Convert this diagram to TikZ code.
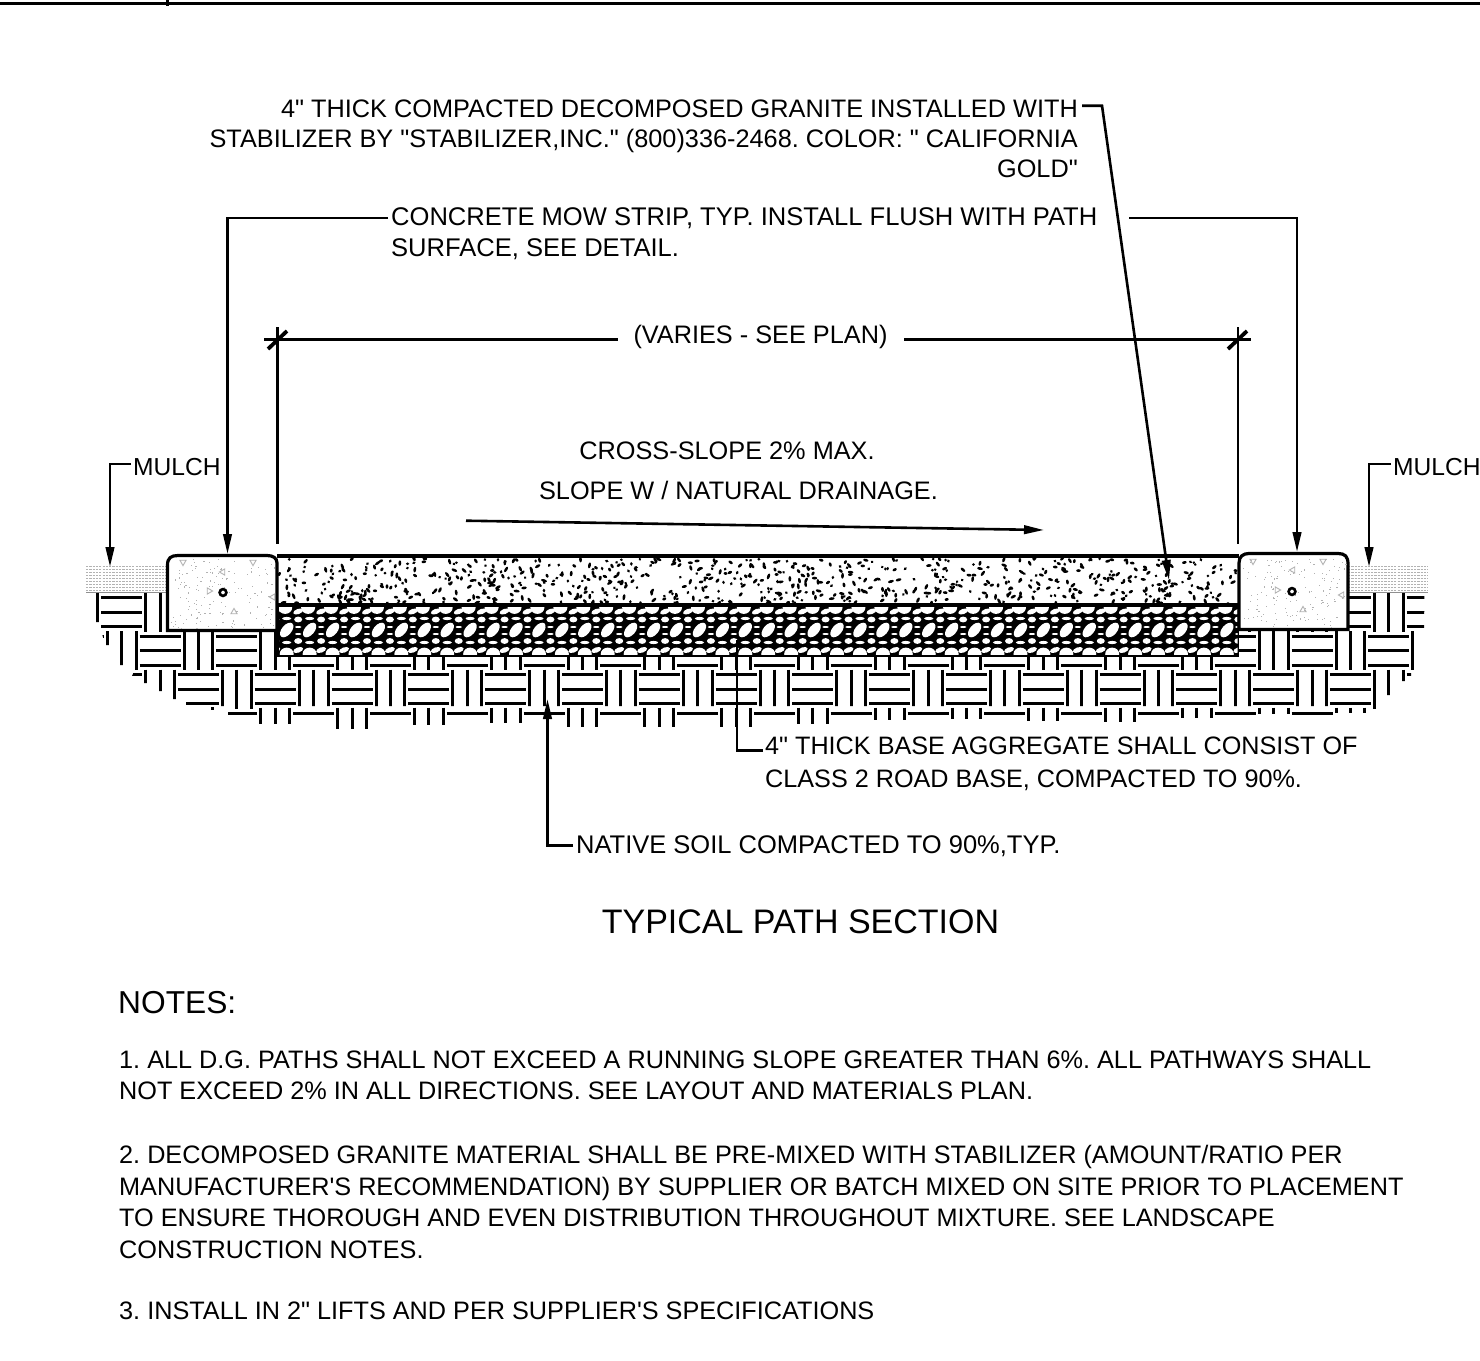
\documentclass[tikz,border=0pt]{standalone}
\usepackage{fontspec}
\setmainfont{Liberation Sans}[Ligatures=TeXOff]
\usetikzlibrary{arrows.meta}
\definecolor{stip}{gray}{0.7}
\tikzset{
  lbl/.style={inner sep=0pt,font=\frenchspacing\fontsize{25.3}{30}\selectfont},
  lblb/.style={lbl,font=\frenchspacing\fontsize{25.2}{33}\selectfont},
  mul/.style={inner sep=0pt,anchor=west,font=\fontsize{24.6}{30}\selectfont},
  note/.style={inner sep=0pt,align=left,anchor=north west,font=\frenchspacing\fontsize{25.25}{31.5}\selectfont},
  leader/.style={line width=2.6pt},
  pointer/.style={leader,-{Stealth[length=20pt,width=8.5pt,inset=0pt]}},
  weave/.style={line width=3pt},
  layer/.style={line width=3.2pt,draw=black},
  tickm/.style={line width=3.8pt}
}
\begin{document}
\begin{tikzpicture}[x=1pt,y=-1pt]
\useasboundingbox (0,0) rectangle (1480,1360);
% frame line at the top
\draw[line width=3.2pt] (0,3.8) -- (1480,3.8);
\draw[line width=3pt] (167.5,0) -- (167.5,6);
% mulch
\foreach \mx/\mw in {86/81,1348/80}{
  \foreach \my in {566.5,569.5,...,591}{
    \draw[stip,line width=1.3pt,dash pattern=on 2.2pt off 1.1pt] (\mx,\my) -- ++(\mw,0);
  }
  \draw[stip!80!black,line width=1.2pt] (\mx,592.8) -- ++(\mw,0);
}
% native soil basket weave
\begin{scope}
\clip (95,591) -- (95,622) -- (99,622) -- (105,645) -- (109,645) -- (119,665) -- (124,665) -- (134,671.5)
  -- (132,676) -- (143,676) -- (143,683) -- (147,683) -- (158,691) -- (162,691) -- (172,699) -- (177,699)
  -- (177,695) -- (186,695) -- (186,706) -- (224,706) -- (224,716) -- (259,716) -- (259,706)
  -- (1366,706) -- (1372,709.5) -- (1376,709.5) -- (1387,695) -- (1391,695) -- (1401,681) -- (1405,681)
  -- (1405,677) -- (1411,677) -- (1411,671) -- (1415,671) -- (1424,630) -- (1424.5,591) -- cycle;
\foreach \j in {-1,0,1}{
  \foreach \i in {-3,...,34}{
    \pgfmathsetmacro{\cx}{160+38.4*\i}
    \pgfmathsetmacro{\cy}{650.7+38.5*\j}
    \pgfmathtruncatemacro{\wpar}{mod(abs(\i+\j),2)}
    \ifnum\wpar=0
      \foreach \d in {-14.4,0,14.4}{
        \draw[weave] (\cx-20.5,\cy+\d) -- (\cx+20.5,\cy+\d);
      }
    \else
      \foreach \d in {-14.4,0,14.4}{
        \draw[weave] (\cx+\d,\cy-19.5) -- (\cx+\d,\cy+19.5);
      }
    \fi
  }
}
\end{scope}
% bottom row of the weave, cut along the irregular edge
\foreach \i/\e in {3/724,5/729,7/725,9/723,11/727,13/727,15/727,17/724,19/720,21/719,23/721,25/722,27/718,29/714,31/713}{
  \pgfmathsetmacro{\cx}{160+38.4*\i}
  \foreach \d in {-14.4,0,14.4}{
    \draw[weave] (\cx+\d,707.7) -- (\cx+\d,\e);
  }
}
\draw[weave] (212.8,707) -- (212.8,710);
\draw[weave] (228,713.3) -- (257,713.3);
\foreach \i in {4,6,...,30}{
  \pgfmathsetmacro{\cx}{160+38.4*\i}
  \draw[weave] (\cx-20.5,713.3) -- (\cx+20.5,713.3);
}
% aggregate base layer
\fill[white] (277,556) rectangle (1239,656);
\fill[black] (277,605) rectangle (1239,656.5);
\begin{scope}
\clip (279,607.5) rectangle (1237.5,654);
\foreach \k in {-1,0,...,42}{
  \pgfmathsetmacro{\xa}{286.7+22.93*\k}
  \fill[white] (\xa,630) circle[x radius=8.6,y radius=4.9,rotate=50];
  \fill[white] (\xa-1.5,607.5) circle[x radius=7,y radius=6.4];
  \fill[white] (\xa,654) circle[x radius=7,y radius=6.4];
  \fill[white] (\xa+11.5,611.5) circle[x radius=5.2,y radius=2.6,rotate=20];
  \fill[white] (\xa+11.5,650) circle[x radius=5.2,y radius=2.6,rotate=20];
  \fill[white] (\xa+11.5,619.5) circle[x radius=4,y radius=2.9];
  \fill[white] (\xa+11.5,641) circle[x radius=4,y radius=2.9];
  \fill[white] (\xa,618.5) circle[x radius=4.6,y radius=1.6];
  \fill[white] (\xa,642.5) circle[x radius=4.6,y radius=1.6];
  \fill[white] (\xa+11.5,627) circle[x radius=3.2,y radius=1];
  \fill[white] (\xa+11.5,634) circle[x radius=3.2,y radius=1];
}
\end{scope}
% decomposed granite speckle
\pgfmathsetseed{4207}
\foreach \n in {1,...,740}{
  \pgfmathsetmacro{\rx}{279+rnd*958}
  \pgfmathsetmacro{\ry}{558.5+rnd*45}
  \pgfmathsetmacro{\ra}{rnd*180}
  \pgfmathsetmacro{\rl}{1.4+rnd*1.7}
  \fill (\rx,\ry) circle[x radius=\rl,y radius=1.4,rotate=\ra];
}
\draw[layer] (277,556) -- (1239,556);
\draw[layer] (277,605) -- (1239,605);
% concrete mow strips
\draw[layer,fill=white] (167.5,630.5) -- (167.5,565) .. controls (167.5,558) and (171,555.5) .. (178,555.5)
  -- (267,555.5) .. controls (273,555.5) and (277,558) .. (277,563) -- (277,630.5) -- cycle;
\draw[layer,fill=white] (1239,629.5) -- (1239,563) .. controls (1239,556.5) and (1243,553.5) .. (1249,553.5)
  -- (1338,553.5) .. controls (1345,553.5) and (1348,556.5) .. (1348,564) -- (1348,629.5) -- cycle;
\pgfmathsetseed{911}
\foreach \ox in {170,1242}{
  \foreach \n in {1,...,150}{
    \pgfmathsetmacro{\rx}{\ox+rnd*104}
    \pgfmathsetmacro{\ry}{558+rnd*70}
    \fill[stip] (\rx,\ry) rectangle ++(1.1,1.1);
  }
}
\foreach \tx/\ty/\ta in {183/562/90,253/562/90,223/572/180,209/591/0,234/612/-90,273/597/180,
  1253/561/90,1323/561/90,1293/570/180,1277/590/0,1303/610/-90,1342/595/180}{
  \draw[stip,line width=0.9pt] (\tx,\ty) ++(\ta:3.6) -- ++(\ta+150:6.2) -- ++(\ta+270:6.2) -- cycle;
}
\draw[line width=2.6pt] (223,592.5) circle[radius=3.4];
\draw[line width=2.6pt] (1292,591.5) circle[radius=3.4];
% texts
\node[lbl,anchor=north east,align=right] (granite) at (1078,99.5) {4" THICK COMPACTED DECOMPOSED GRANITE INSTALLED WITH\\STABILIZER BY "STABILIZER,INC." (800)336-2468. COLOR: " CALIFORNIA\\GOLD"};
\node[lbl,anchor=north west,align=left,font=\frenchspacing\fontsize{25.55}{31}\selectfont] (strip) at (391,207) {CONCRETE MOW STRIP, TYP. INSTALL FLUSH WITH PATH\\SURFACE, SEE DETAIL.};
\node[lbl] (varies) at (760.5,336.5) {(VARIES - SEE PLAN)};
\node[lbl] (cross) at (727,451) {CROSS-SLOPE 2\% MAX.};
\node[lbl] (drain) at (738.5,490) {SLOPE W / NATURAL DRAINAGE.};
\node[mul] (mulchl) at (133,467) {MULCH};
\node[mul] (mulchr) at (1393,467) {MULCH};
\node[lblb,anchor=north west,align=left] (base) at (765,737) {4" THICK BASE AGGREGATE SHALL CONSIST OF\\CLASS 2 ROAD BASE, COMPACTED TO 90\%.};
\node[lbl,anchor=west,font=\frenchspacing\fontsize{25.5}{30}\selectfont] (soil) at (576,846) {NATIVE SOIL COMPACTED TO 90\%,TYP.};
\node[inner sep=0pt,font=\fontsize{34}{38}\selectfont] (title) at (800.5,922) {TYPICAL PATH SECTION};
\node[inner sep=0pt,anchor=west,font=\fontsize{31.7}{34}\selectfont] (notes) at (118,1003) {NOTES:};
\node[note] (n1) at (119,1050.5) {1. ALL D.G. PATHS SHALL NOT EXCEED A RUNNING SLOPE GREATER THAN 6\%. ALL PATHWAYS SHALL\\NOT EXCEED 2\% IN ALL DIRECTIONS. SEE LAYOUT AND MATERIALS PLAN.};
\node[note] (n2) at (119,1145) {2. DECOMPOSED GRANITE MATERIAL SHALL BE PRE-MIXED WITH STABILIZER (AMOUNT/RATIO PER\\MANUFACTURER'S RECOMMENDATION) BY SUPPLIER OR BATCH MIXED ON SITE PRIOR TO PLACEMENT\\TO ENSURE THOROUGH AND EVEN DISTRIBUTION THROUGHOUT MIXTURE. SEE LANDSCAPE\\CONSTRUCTION NOTES.};
\node[note] (n3) at (119,1301.5) {3. INSTALL IN 2" LIFTS AND PER SUPPLIER'S SPECIFICATIONS};
% leader anchors
\coordinate (gs) at (1082,105.7);
\coordinate (gk) at (1102,105.7);
\coordinate (gt) at (1169,580);
\coordinate (sl) at (388,218);
\coordinate (slk) at (227.5,218);
\coordinate (slt) at (227.5,554);
\coordinate (sr) at (1129,218);
\coordinate (srk) at (1297,218);
\coordinate (srt) at (1297,552);
\coordinate (ml) at (131,464);
\coordinate (mlk) at (110,464);
\coordinate (mlt) at (110,567);
\coordinate (mr) at (1391,464);
\coordinate (mrk) at (1369,464);
\coordinate (mrt) at (1369,567);
\coordinate (da) at (264,339.3);
\coordinate (db) at (618,339.3);
\coordinate (dc) at (904,339.3);
\coordinate (dd) at (1251,339.3);
\coordinate (ela) at (277.7,327);
\coordinate (elb) at (277.7,544);
\coordinate (era) at (1238,327);
\coordinate (erb) at (1238,544);
\coordinate (tla) at (268,349);
\coordinate (tlb) at (287,331);
\coordinate (tra) at (1228,349);
\coordinate (trb) at (1247,331);
\coordinate (ss) at (466,520.7);
\coordinate (st) at (1044,530);
\coordinate (bs) at (737,640);
\coordinate (bk) at (737,750.5);
\coordinate (be) at (763,750.5);
\coordinate (nt) at (547.5,699);
\coordinate (nk) at (547.5,845.5);
\coordinate (ne) at (573,845.5);
% leaders
\draw[pointer] (gs) -- (gk) -- (gt);
\draw[pointer] (sl) -- (slk) -- (slt);
\draw[pointer] (sr) -- (srk) -- (srt);
\draw[pointer] (ml) -- (mlk) -- (mlt);
\draw[pointer] (mr) -- (mrk) -- (mrt);
\draw[leader] (da) -- (db);
\draw[leader] (dc) -- (dd);
\draw[leader] (ela) -- (elb);
\draw[leader] (era) -- (erb);
\draw[tickm] (tla) -- (tlb);
\draw[tickm] (tra) -- (trb);
\draw[pointer] (ss) -- (st);
\draw[leader] (bs) -- (bk) -- (be);
\draw[pointer] (ne) -- (nk) -- (nt);
\end{tikzpicture}
\end{document}
